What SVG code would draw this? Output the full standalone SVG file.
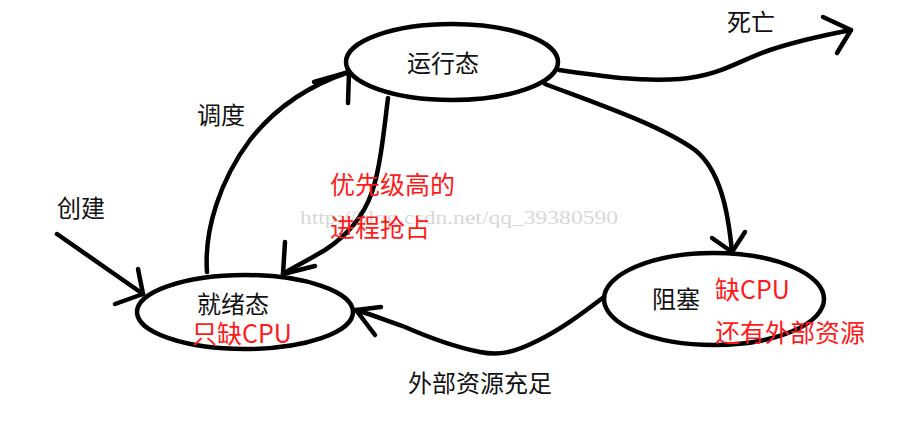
<svg xmlns="http://www.w3.org/2000/svg" width="898" height="434" viewBox="0 0 898 434">
<style>
.node{fill:none;stroke:#000;stroke-width:4.5}
.edge{fill:none;stroke:#000;stroke-width:4.5;stroke-linecap:round;stroke-linejoin:round}
.t{font-family:"Noto Sans CJK SC","Liberation Sans",sans-serif;font-size:24px;fill:#111}
.r{font-family:"Noto Sans CJK SC","Liberation Sans",sans-serif;font-size:25px;fill:#ff1a1a}
.wm{font-family:"Liberation Serif","DejaVu Serif",serif;font-size:18px;fill:#d8d8d8}
</style>
<rect width="898" height="434" fill="#fff"/>
<text class="wm" x="300" y="224" textLength="318" lengthAdjust="spacingAndGlyphs">http://blog.csdn.net/qq_39380590</text>
<g id="connectors">
  <path class="edge" d="M207,272 C204,230 220,180 250,140 C275,108 310,85 349,72"/>
  <path class="edge" d="M314,82 L349,72 L348,103"/>
  <path class="edge" d="M388,98 C384,130 380,170 372,192 C363,218 345,237 325,250 C305,262 292,268 283,274"/>
  <path class="edge" d="M285,242 L283,274 L315,266"/>
  <path class="edge" d="M57,234 L143,294"/>
  <path class="edge" d="M138,269 L143,294 L115,304"/>
  <path class="edge" d="M545,84 C600,105 660,125 695,150 C720,170 728,210 732,252"/>
  <path class="edge" d="M712,238 L732,252 L745,232"/>
  <path class="edge" d="M559,70 C600,76 640,82 680,79 C720,76 740,60 770,50 C800,40 825,35 851,30"/>
  <path class="edge" d="M823,17 L851,30 L837,53"/>
  <path class="edge" d="M604,297 C580,315 560,330 537,341 C515,352 500,356 480,352 C455,347 430,338 405,327 C385,320 370,314 356,310"/>
  <path class="edge" d="M381,307 L356,310 L375,335"/>
</g>
<g id="running">
  <ellipse class="node" cx="452" cy="62" rx="106" ry="38"/>
  <text class="t" x="407" y="72">运行态</text>
</g>
<g id="ready">
  <ellipse class="node" cx="245" cy="312" rx="108" ry="37"/>
  <text class="t" x="197" y="313">就绪态</text>
  <text class="r" x="192" y="343">只缺CPU</text>
</g>
<g id="blocked">
  <ellipse class="node" cx="714" cy="299" rx="110" ry="46"/>
  <text class="t" x="652" y="308">阻塞</text>
  <text class="r" x="715" y="299">缺CPU</text>
  <text class="r" x="715" y="342">还有外部资源</text>
</g>
<g id="labels">
  <text class="t" x="727" y="31">死亡</text>
  <text class="t" x="197" y="124">调度</text>
  <text class="t" x="57" y="217">创建</text>
  <text class="r" x="330" y="194">优先级高的</text>
  <text class="r" x="330" y="237">进程抢占</text>
  <text class="t" x="408" y="392">外部资源充足</text>
</g>
</svg>
